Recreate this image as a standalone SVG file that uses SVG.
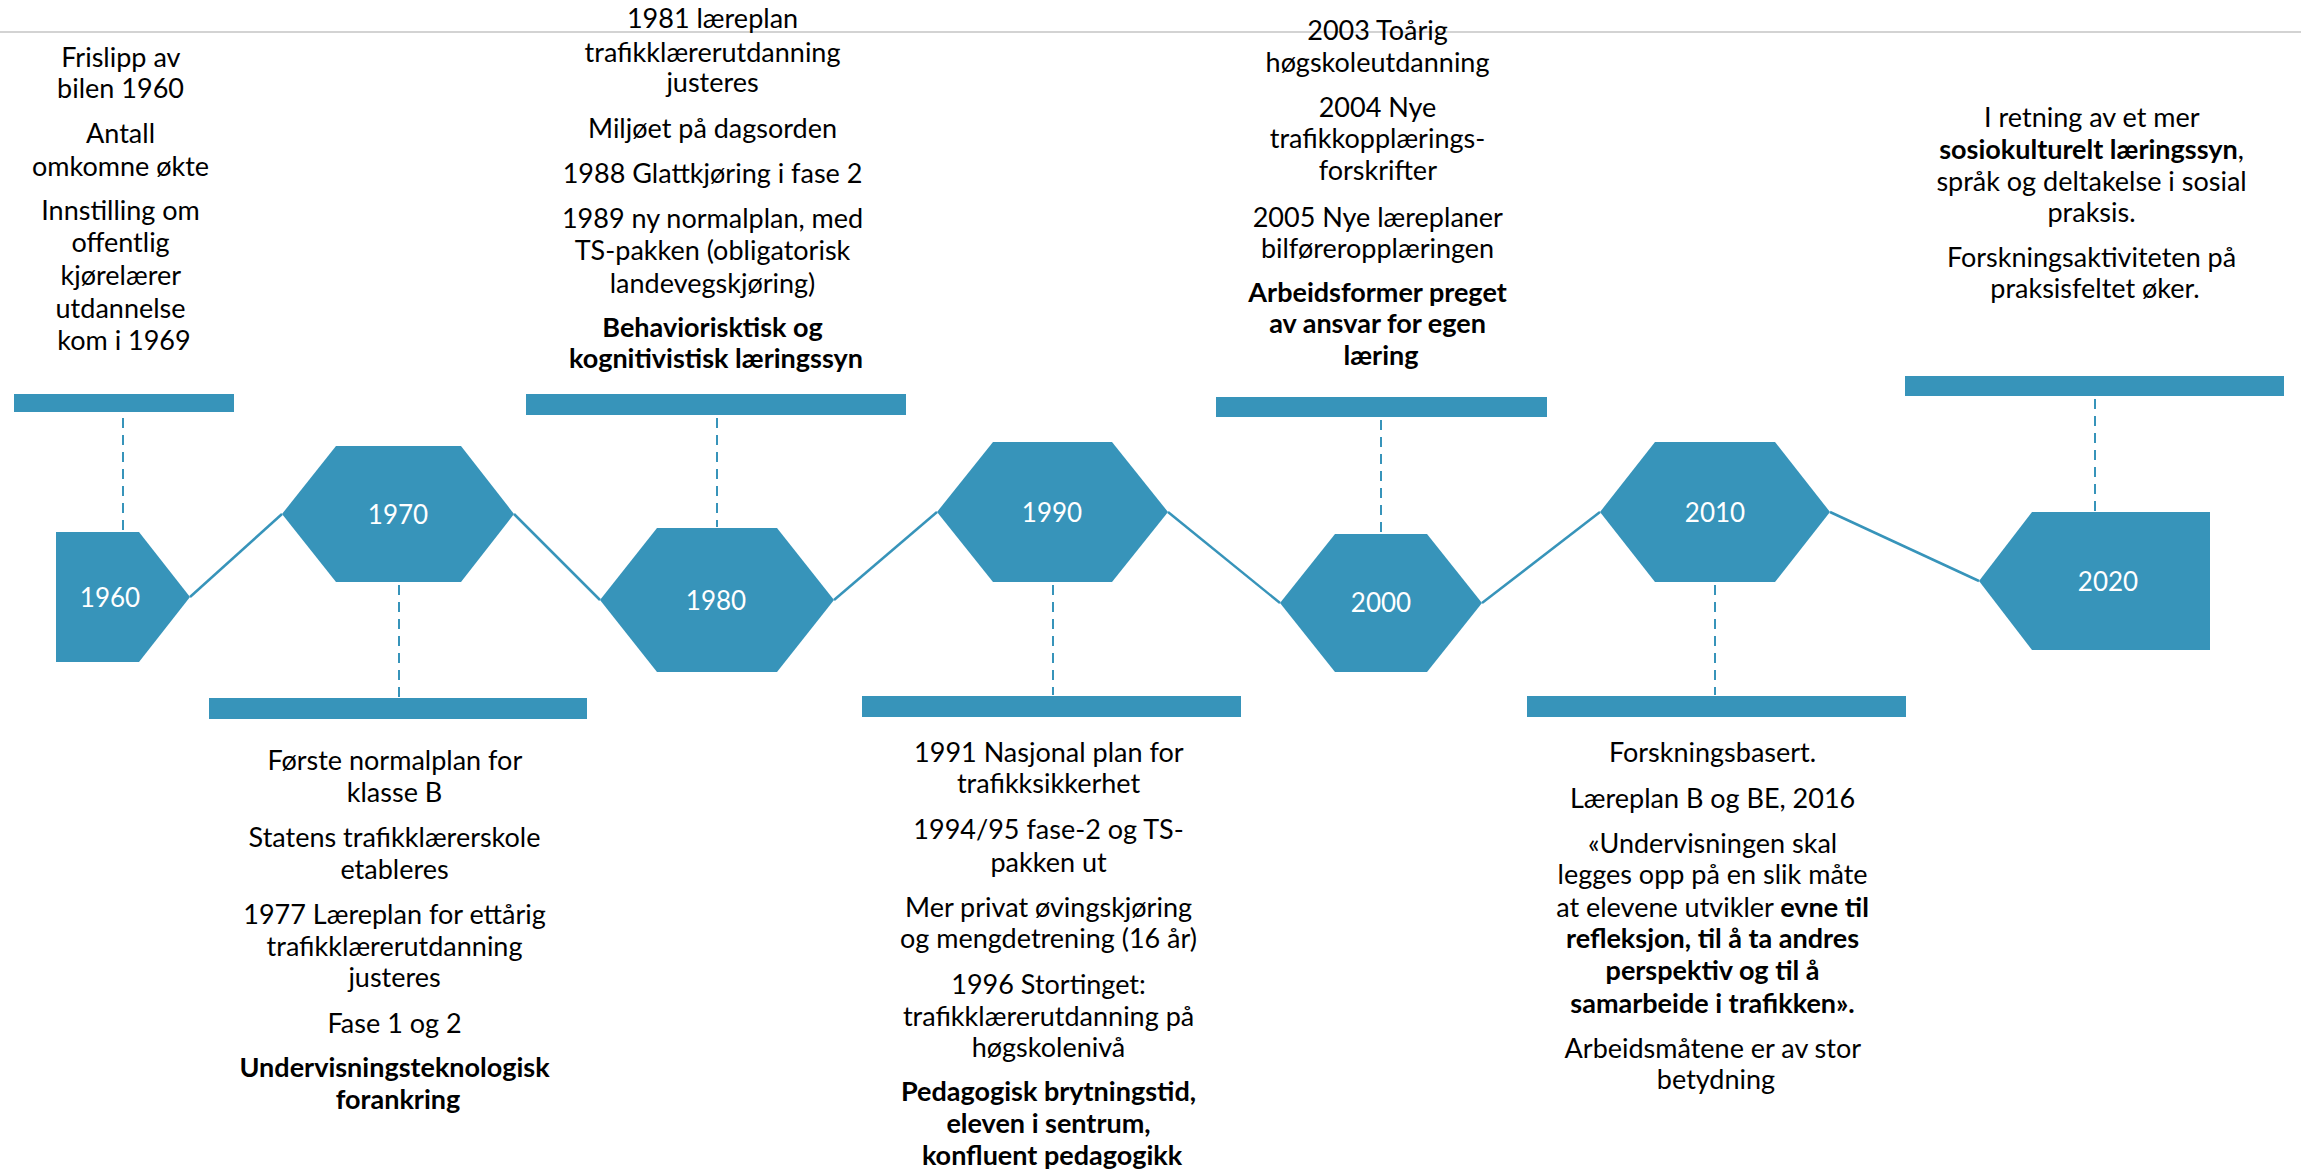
<svg xmlns="http://www.w3.org/2000/svg" width="2301" height="1170" viewBox="0 0 2301 1170">
<style>
.shape{fill:#3794ba}
.bar{fill:#3794ba}
.lbl{font-family:Lato,"Open Sans",sans-serif;font-size:26px;fill:#ffffff;text-anchor:middle;dominant-baseline:central}
.t{font-family:Lato,"Liberation Sans",sans-serif;font-size:27px;fill:#000000;text-anchor:middle}
.b{font-weight:bold}
.link{stroke:#3794ba;stroke-width:2.5;fill:none}
.dash{stroke:#3794ba;stroke-width:2;stroke-dasharray:10 7;fill:none}
</style>
<rect x="0" y="0" width="2301" height="1170" fill="#ffffff"/>
<line x1="0" y1="32" x2="2301" y2="32" stroke="#c4c4c4" stroke-width="1.5"/>

<g id="connectors">
<line class="link" x1="190" y1="597" x2="282" y2="514"/>
<line class="link" x1="514" y1="514" x2="600" y2="600"/>
<line class="link" x1="834" y1="600" x2="937" y2="512"/>
<line class="link" x1="1168" y1="512" x2="1280" y2="603"/>
<line class="link" x1="1482" y1="603" x2="1600" y2="512"/>
<line class="link" x1="1830" y1="512" x2="1979" y2="581"/>
<line class="dash" x1="123" y1="418" x2="123" y2="531"/>
<line class="dash" x1="399" y1="585" x2="399" y2="697"/>
<line class="dash" x1="717" y1="418" x2="717" y2="527"/>
<line class="dash" x1="1053" y1="585" x2="1053" y2="695"/>
<line class="dash" x1="1381" y1="420" x2="1381" y2="533"/>
<line class="dash" x1="1715" y1="585" x2="1715" y2="695"/>
<line class="dash" x1="2095" y1="399" x2="2095" y2="511"/>
</g>

<g id="node-1960">
<rect class="bar" x="14" y="394" width="220" height="18"/>
<polygon class="shape" points="56,532 139,532 190,597 139,662 56,662"/>
<text class="lbl" x="110" y="597">1960</text>
<text class="t">
<tspan x="124" y="67">Frislipp av</tspan>
<tspan x="124" y="98">bilen 1960</tspan>
<tspan x="124" y="143">Antall</tspan>
<tspan x="124" y="176">omkomne økte</tspan>
<tspan x="124" y="220">Innstilling om</tspan>
<tspan x="124" y="252">offentlig</tspan>
<tspan x="124" y="285">kjørelærer</tspan>
<tspan x="124" y="318">utdannelse</tspan>
<tspan x="124" y="350">kom i 1969</tspan>
</text>
</g>

<g id="node-1970">
<polygon class="shape" points="282,514 336,446 461,446 514,514 461,582 336,582"/>
<text class="lbl" x="398" y="514">1970</text>
<rect class="bar" x="209" y="698" width="378" height="21"/>
<text class="t">
<tspan x="398" y="770">Første normalplan for</tspan>
<tspan x="398" y="802">klasse B</tspan>
<tspan x="398" y="847">Statens trafikklærerskole</tspan>
<tspan x="398" y="879">etableres</tspan>
<tspan x="398" y="924">1977 Læreplan for ettårig</tspan>
<tspan x="398" y="956">trafikklærerutdanning</tspan>
<tspan x="398" y="987">justeres</tspan>
<tspan x="398" y="1033">Fase 1 og 2</tspan>
<tspan class="b" x="398" y="1077">Undervisningsteknologisk</tspan>
<tspan class="b" x="398" y="1109">forankring</tspan>
</text>
</g>

<g id="node-1980">
<rect class="bar" x="526" y="394" width="380" height="21"/>
<polygon class="shape" points="600,600 657,528 777,528 834,600 777,672 657,672"/>
<text class="lbl" x="716" y="600">1980</text>
<text class="t">
<tspan x="716" y="28">1981 læreplan</tspan>
<tspan x="716" y="62">trafikklærerutdanning</tspan>
<tspan x="716" y="92">justeres</tspan>
<tspan x="716" y="138">Miljøet på dagsorden</tspan>
<tspan x="716" y="183">1988 Glattkjøring i fase 2</tspan>
<tspan x="716" y="228">1989 ny normalplan, med</tspan>
<tspan x="716" y="260">TS-pakken (obligatorisk</tspan>
<tspan x="716" y="293">landevegskjøring)</tspan>
<tspan class="b" x="716" y="337">Behaviorisktisk og</tspan>
<tspan class="b" x="716" y="368">kognitivistisk læringssyn</tspan>
</text>
</g>

<g id="node-1990">
<polygon class="shape" points="937,512 993,442 1112,442 1168,512 1112,582 993,582"/>
<text class="lbl" x="1052" y="512">1990</text>
<rect class="bar" x="862" y="696" width="379" height="21"/>
<text class="t">
<tspan x="1052" y="762">1991 Nasjonal plan for</tspan>
<tspan x="1052" y="793">trafikksikkerhet</tspan>
<tspan x="1052" y="839">1994/95 fase-2 og TS-</tspan>
<tspan x="1052" y="872">pakken ut</tspan>
<tspan x="1052" y="917">Mer privat øvingskjøring</tspan>
<tspan x="1052" y="948">og mengdetrening (16 år)</tspan>
<tspan x="1052" y="994">1996 Stortinget:</tspan>
<tspan x="1052" y="1026">trafikklærerutdanning på</tspan>
<tspan x="1052" y="1057">høgskolenivå</tspan>
<tspan class="b" x="1052" y="1101">Pedagogisk brytningstid,</tspan>
<tspan class="b" x="1052" y="1133">eleven i sentrum,</tspan>
<tspan class="b" x="1052" y="1165">konfluent pedagogikk</tspan>
</text>
</g>

<g id="node-2000">
<rect class="bar" x="1216" y="397" width="331" height="20"/>
<polygon class="shape" points="1280,603 1335,534 1427,534 1482,603 1427,672 1335,672"/>
<text class="lbl" x="1381" y="602">2000</text>
<text class="t">
<tspan x="1381" y="40">2003 Toårig</tspan>
<tspan x="1381" y="72">høgskoleutdanning</tspan>
<tspan x="1381" y="117">2004 Nye</tspan>
<tspan x="1381" y="148">trafikkopplærings-</tspan>
<tspan x="1381" y="180">forskrifter</tspan>
<tspan x="1381" y="227">2005 Nye læreplaner</tspan>
<tspan x="1381" y="258">bilføreropplæringen</tspan>
<tspan class="b" x="1381" y="302">Arbeidsformer preget</tspan>
<tspan class="b" x="1381" y="333">av ansvar for egen</tspan>
<tspan class="b" x="1381" y="365">læring</tspan>
</text>
</g>

<g id="node-2010">
<polygon class="shape" points="1600,512 1655,442 1775,442 1830,512 1775,582 1655,582"/>
<text class="lbl" x="1715" y="512">2010</text>
<rect class="bar" x="1527" y="696" width="379" height="21"/>
<text class="t">
<tspan x="1716" y="762">Forskningsbasert.</tspan>
<tspan x="1716" y="808">Læreplan B og BE, 2016</tspan>
<tspan x="1716" y="853">«Undervisningen skal</tspan>
<tspan x="1716" y="884">legges opp på en slik måte</tspan>
<tspan x="1716" y="917">at elevene utvikler <tspan class="b">evne til</tspan></tspan>
<tspan class="b" x="1716" y="948">refleksjon, til å ta andres</tspan>
<tspan class="b" x="1716" y="980">perspektiv og til å</tspan>
<tspan class="b" x="1716" y="1013">samarbeide i trafikken».</tspan>
<tspan x="1716" y="1058">Arbeidsmåtene er av stor</tspan>
<tspan x="1716" y="1089">betydning</tspan>
</text>
</g>

<g id="node-2020">
<rect class="bar" x="1905" y="376" width="379" height="20"/>
<polygon class="shape" points="1979,581 2032,512 2210,512 2210,650 2032,650"/>
<text class="lbl" x="2108" y="581">2020</text>
<text class="t">
<tspan x="2095" y="127">I retning av et mer</tspan>
<tspan x="2095" y="159"><tspan class="b">sosiokulturelt læringssyn</tspan>,</tspan>
<tspan x="2095" y="191">språk og deltakelse i sosial</tspan>
<tspan x="2095" y="222">praksis.</tspan>
<tspan x="2095" y="267">Forskningsaktiviteten på</tspan>
<tspan x="2095" y="298">praksisfeltet øker.</tspan>
</text>
</g>
</svg>
